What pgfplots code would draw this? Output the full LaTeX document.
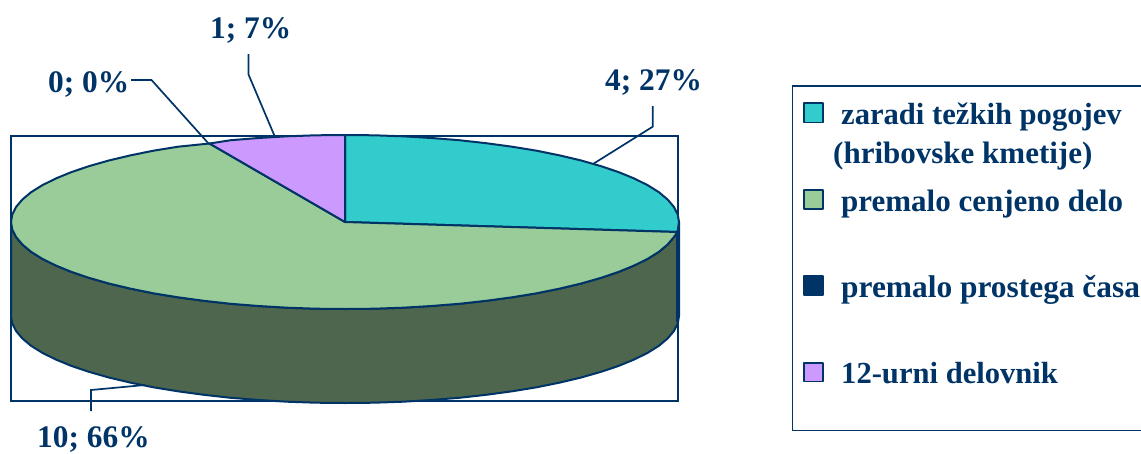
\documentclass[border=0pt]{standalone}
\usepackage{fontspec}
\setmainfont{Liberation Serif}
\usepackage{pgfplots}
\pgfplotsset{compat=1.18}

\definecolor{navy}{HTML}{003366}
\definecolor{teal1}{HTML}{33CCCC}
\definecolor{green1}{HTML}{99CC99}
\definecolor{wall}{HTML}{4D664D}
\definecolor{purple1}{HTML}{CC99FF}

\tikzset{
    lbl/.style={anchor=base west, inner sep=0pt, text=navy,
        font=\fontsize{31.4}{31.4}\selectfont\bfseries},
    slice/.style={draw=navy, line width=2pt, line join=round},
    leader/.style={draw=navy, line width=1.7pt, line join=miter},
}

\begin{document}
\begin{tikzpicture}
    \useasboundingbox (0,0) rectangle (1141pt,453pt);
    \begin{axis}[
        at={(0,0)}, anchor=south west,
        width=1141pt, height=453pt, scale only axis,
        xmin=0, xmax=1141, ymin=0, ymax=453,
        y dir=reverse,
        axis lines=none,
        clip=true,
    ]
        % plot frame
        \addplot[leader, forget plot] coordinates {
            (11,136) (678,136) (678,401) (11,401)
        } --cycle;

        % side wall
        \addplot[slice, fill=wall] coordinates {
            (679,222) (677.7,229.6) (673.9,237.1) (667.6,244.5) (658.9,251.8)
            (647.7,258.8) (634.2,265.5) (618.6,271.9) (600.8,277.9) (581.2,283.5)
            (559.7,288.6) (536.6,293.3) (512,297.3) (486.2,300.8) (459.2,303.8)
            (431.4,306) (403,307.7) (374.1,308.7) (345,309) (315.9,308.7)
            (287,307.7) (258.6,306) (230.8,303.8) (203.8,300.8) (178,297.3)
            (153.4,293.3) (130.3,288.6) (108.8,283.5) (89.2,277.9) (71.4,271.9)
            (55.8,265.5) (42.3,258.8) (31.1,251.8) (22.4,244.5) (16.1,237.1)
            (12.3,229.6) (11,222)
            (11,316) (12.3,323.6) (16.1,331.1) (22.4,338.5) (31.1,345.8)
            (42.3,352.8) (55.8,359.5) (71.4,365.9) (89.2,371.9) (108.8,377.5)
            (130.3,382.6) (153.4,387.3) (178,391.3) (203.8,394.8) (230.8,397.8)
            (258.6,400) (287,401.7) (315.9,402.7) (345,403) (374.1,402.7)
            (403,401.7) (431.4,400) (459.2,397.8) (486.2,394.8) (512,391.3)
            (536.6,387.3) (559.7,382.6) (581.2,377.5) (600.8,371.9) (618.6,365.9)
            (634.2,359.5) (647.7,352.8) (658.9,345.8) (667.6,338.5) (673.9,331.1)
            (677.7,323.6) (679,316)
        } --cycle;

        % sliver of the teal slice on the right edge reads as a heavy line
        \addplot[draw=navy, line width=3.5pt] coordinates {(677.5,232) (677.5,322)};

        % top: 4; 27%
        \addplot[slice, fill=teal1] coordinates {
            (345,222) (345,135) (374.1,135.3) (403,136.3) (431.4,138) (459.2,140.2)
            (486.2,143.2) (512,146.7) (536.6,150.7) (559.7,155.4) (581.2,160.5)
            (600.8,166.1) (618.6,172.1) (634.2,178.5) (647.7,185.2) (658.9,192.2)
            (667.6,199.5) (673.9,206.9) (677.7,214.4) (679,222) (677.5,232)
        } --cycle;

        % top: 10; 66%
        \addplot[slice, fill=green1] coordinates {
            (345,222) (677.5,232) (673.9,237.1) (667.6,244.5) (658.9,251.8)
            (647.7,258.8) (634.2,265.5) (618.6,271.9) (600.8,277.9) (581.2,283.5)
            (559.7,288.6) (536.6,293.3) (512,297.3) (486.2,300.8) (459.2,303.8)
            (431.4,306) (403,307.7) (374.1,308.7) (345,309) (315.9,308.7)
            (287,307.7) (258.6,306) (230.8,303.8) (203.8,300.8) (178,297.3)
            (153.4,293.3) (130.3,288.6) (108.8,283.5) (89.2,277.9) (71.4,271.9)
            (55.8,265.5) (42.3,258.8) (31.1,251.8) (22.4,244.5) (16.1,237.1)
            (12.3,229.6) (11,222) (12.3,214.4) (16.1,206.9) (22.4,199.5) (31.1,192.2)
            (42.3,185.2) (55.8,178.5) (71.4,172.1) (89.2,166.1) (108.8,160.5)
            (130.3,155.4) (153.4,150.7) (178,146.7) (209.5,143.5)
        } --cycle;

        % top: 1; 7%
        \addplot[slice, fill=purple1] coordinates {
            (345,222) (209.5,143.5) (230.8,140.2) (258.6,138) (287,136.3)
            (315.9,135.3) (345,135)
        } --cycle;

        % leader lines
        \addplot[leader] coordinates {(248.5,54) (248.5,74.5) (275,137)};
        \addplot[leader] coordinates {(131,80) (151.5,80) (209,144)};
        \addplot[leader] coordinates {(652.7,106) (652.7,126.7) (593,164)};
        \addplot[leader] coordinates {(91,411) (91,390) (145,385)};

        % legend frame, open to the right edge
        \addplot[leader] coordinates {(1141,86) (792.5,86) (792.5,430.5) (1141,430.5)};

        % legend swatches
        \addplot[slice, fill=teal1, line width=1.5pt] coordinates {
            (804,103) (823,103) (823,122.5) (804,122.5)} --cycle;
        \addplot[slice, fill=green1, line width=1.5pt] coordinates {
            (804,190) (823,190) (823,209) (804,209)} --cycle;
        \addplot[slice, fill=navy, line width=1.5pt] coordinates {
            (804,276) (823,276) (823,295) (804,295)} --cycle;
        \addplot[slice, fill=purple1, line width=1.5pt] coordinates {
            (804,363) (823,363) (823,381.5) (804,381.5)} --cycle;

        \node[lbl] at (axis cs:210,38) {1; 7\%};
        \node[lbl] at (axis cs:48,92) {0; 0\%};
        \node[lbl] at (axis cs:605,90) {4; 27\%};
        \node[lbl] at (axis cs:37,447.5) {10; 66\%};

        \node[lbl, font=\fontsize{30.6}{31}\selectfont\bfseries] at (axis cs:841,124.5) {zaradi težkih pogojev};
        \node[lbl, font=\fontsize{31}{31}\selectfont\bfseries] at (axis cs:833,163) {(hribovske kmetije)};
        \node[lbl, font=\fontsize{31}{31}\selectfont\bfseries] at (axis cs:841,211) {premalo cenjeno delo};
        \node[lbl] at (axis cs:841,297) {premalo prostega časa};
        \node[lbl, font=\fontsize{30.6}{31}\selectfont\bfseries] at (axis cs:841,383) {12-urni delovnik};
    \end{axis}
\end{tikzpicture}
\end{document}
